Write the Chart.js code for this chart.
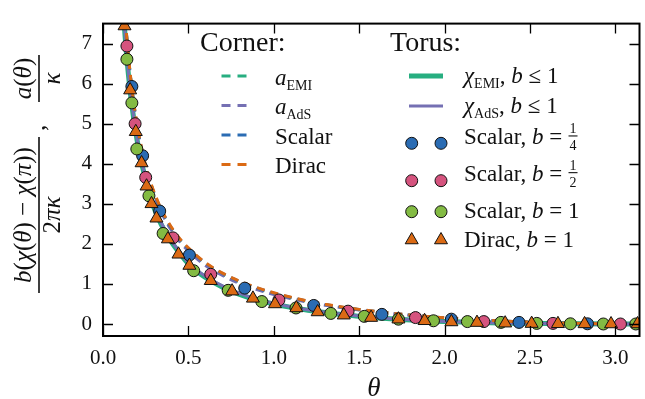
<!DOCTYPE html>
<html><head><meta charset="utf-8">
<script src="https://cdn.jsdelivr.net/npm/chart.js@4"></script>
<style>html,body{margin:0;padding:0;overflow:hidden;background:#fff}#wrap{width:648px;height:399px;position:relative}</style>
</head><body><div id="wrap"><canvas id="c"></canvas></div>
<script>
// ---- tick labels ----
const xTicks = [0, 0.5, 1.0, 1.5, 2.0, 2.5, 3.0];
const yTicks = [0, 1, 2, 3, 4, 5, 6, 7];

// ---- curves ----
const curveTheta = [0.12,0.13,0.14,0.16,0.18,0.20,0.22,0.25,0.28,0.32,0.36,0.40,0.45,0.50,0.60,0.70,0.80,0.90,1.00,1.10,1.20,1.30,1.40,1.50,1.60,1.80,2.00,2.20,2.40,2.60,2.80,3.00,3.1416];
const cornerEMI    = [8.29,7.65,7.10,6.20,5.50,4.94,4.48,3.92,3.49,3.03,2.67,2.38,2.09,1.86,1.50,1.24,1.04,0.885,0.756,0.649,0.559,0.481,0.414,0.355,0.304,0.219,0.152,0.102,0.061,0.032,0.012,0.002,0];
const cornerAdS    = [8.28,7.63,7.08,6.18,5.47,4.91,4.45,3.89,3.45,2.99,2.63,2.34,2.05,1.82,1.46,1.21,1.01,0.86,0.735,0.632,0.545,0.470,0.405,0.348,0.298,0.215,0.150,0.100,0.060,0.031,0.012,0.002,0];
const cornerScalar = [8.30,7.66,7.11,6.21,5.51,4.95,4.49,3.93,3.50,3.05,2.69,2.40,2.11,1.88,1.52,1.26,1.06,0.90,0.77,0.66,0.57,0.49,0.42,0.36,0.31,0.222,0.154,0.103,0.062,0.032,0.012,0.002,0];
const cornerDirac  = [8.31,7.67,7.12,6.23,5.53,4.97,4.51,3.95,3.52,3.07,2.71,2.42,2.13,1.90,1.53,1.27,1.07,0.91,0.78,0.67,0.575,0.495,0.425,0.365,0.312,0.225,0.156,0.105,0.063,0.033,0.013,0.002,0];
const torusEMI     = [7.75,7.15,6.62,5.78,5.12,4.58,4.14,3.60,3.12,2.68,2.33,2.05,1.76,1.50,1.16,0.92,0.74,0.60,0.50,0.415,0.345,0.285,0.235,0.190,0.155,0.100,0.062,0.037,0.020,0.010,0.004,0.001,0];
const torusAdS     = [7.78,7.18,6.66,5.82,5.16,4.62,4.18,3.64,3.16,2.72,2.37,2.08,1.79,1.53,1.19,0.95,0.765,0.62,0.515,0.43,0.355,0.295,0.243,0.197,0.160,0.103,0.064,0.038,0.021,0.010,0.004,0.001,0];

// ---- torus lattice points ----
const scalarQuarterTheta = [0.169,0.232,0.332,0.506,0.83,1.234,1.633,2.04,2.436,2.837];
const scalarQuarterY     = [5.93,4.20,2.82,1.72,0.895,0.463,0.24,0.12,0.04,0.005];
const scalarHalfTheta = [0.14,0.188,0.25,0.41,0.631,1.03,1.435,1.83,2.23,2.635,3.03];
const scalarHalfY     = [6.94,5.00,3.66,2.15,1.24,0.60,0.32,0.16,0.06,0.015,0.0];
const scalarOneTheta = [0.14,0.169,0.198,0.269,0.352,0.531,0.733,0.93,1.13,1.334,1.53,1.73,1.935,2.134,2.33,2.54,2.737,2.93,3.12];
const scalarOneY     = [6.61,5.52,4.37,3.20,2.26,1.33,0.84,0.56,0.40,0.264,0.19,0.12,0.08,0.06,0.04,0.015,0.005,0.0,0.0];
const diracOneTheta = [0.126,0.159,0.192,0.226,0.255,0.284,0.313,0.38,0.442,0.506,0.631,0.756,0.878,1.007,1.132,1.257,1.41,1.57,1.73,1.883,2.04,2.19,2.355,2.51,2.664,2.82,2.975,3.13];
const diracOneY     = [7.44,5.84,4.80,4.02,3.44,3.00,2.64,2.12,1.74,1.46,1.08,0.82,0.64,0.50,0.40,0.30,0.22,0.16,0.12,0.08,0.05,0.035,0.02,0.01,0.005,0.002,0.0,0.0];

const C = {teal:'#27ae80', purple:'#7570b3', blue:'#2b6cb3', orange:'#db6a14', pink:'#d5537e', green:'#83bb43'};
const SERIF = '"Liberation Serif","Times New Roman",serif';

const pts = (xs, ys) => xs.map((x, i) => ({x, y: ys[i]}));

function lineDs(label, ys, color, width, dash, order){
  return {type:'line', label, data: pts(curveTheta, ys), borderColor: color, borderWidth: width,
    borderDash: dash, pointRadius: 0, fill: false, cubicInterpolationMode: 'monotone', order};
}
function ptDs(label, xs, ys, color, style, r, order){
  return {type:'scatter', label, data: pts(xs, ys), backgroundColor: color, borderColor: '#111',
    borderWidth: 1, pointStyle: style, pointRadius: r, pointHoverRadius: r, showLine: false, order};
}

function runs(ctx, x, y, parts){
  let cx = x;
  for (const [t, f, dy] of parts){ ctx.font = f; ctx.fillText(t, cx, y + (dy || 0)); cx += ctx.measureText(t).width; }
  return cx;
}
function runsW(ctx, parts){
  let w = 0; for (const [t, f] of parts){ ctx.font = f; w += ctx.measureText(t).width; } return w;
}
function centered(ctx, parts, cx, y){ runs(ctx, cx - runsW(ctx, parts) / 2, y, parts); }

function marker(ctx, x, y, style, color, r){
  ctx.save(); ctx.fillStyle = color; ctx.strokeStyle = '#111'; ctx.lineWidth = 1;
  ctx.beginPath();
  if (style === 'circle'){ ctx.arc(x, y, r, 0, Math.PI * 2); }
  else { for (let k = 0; k < 3; k++){ const a = k * 2 * Math.PI / 3; const px = x + Math.sin(a) * r, py = y - Math.cos(a) * r; k ? ctx.lineTo(px, py) : ctx.moveTo(px, py);} ctx.closePath(); }
  ctx.fill(); ctx.stroke(); ctx.restore();
}

const decor = {
  id: 'decor',
  afterDraw(chart){
    const ctx = chart.ctx, a = chart.chartArea, xs = chart.scales.x, ys = chart.scales.y;
    ctx.save();
    ctx.strokeStyle = '#000'; ctx.lineWidth = 1.3;
    ctx.beginPath();
    for (const v of xTicks){ const p = Math.round(xs.getPixelForValue(v)) + 0.5;
      ctx.moveTo(p, a.bottom); ctx.lineTo(p, a.bottom - 10); ctx.moveTo(p, a.top); ctx.lineTo(p, a.top + 10); }
    for (const v of yTicks){ const p = Math.round(ys.getPixelForValue(v)) + 0.5;
      ctx.moveTo(a.left, p); ctx.lineTo(a.left + 10, p); ctx.moveTo(a.right, p); ctx.lineTo(a.right - 10, p); }
    ctx.stroke();
    ctx.lineWidth = 2; ctx.strokeRect(a.left, a.top, a.right - a.left, a.bottom - a.top);

    ctx.fillStyle = '#111'; ctx.textBaseline = 'alphabetic'; ctx.textAlign = 'left';
    // x title
    ctx.font = `italic 27px ${SERIF}`; ctx.textAlign = 'center'; ctx.fillText('θ', 374, 396); ctx.textAlign = 'left';

    // y title (rotated)
    ctx.save(); ctx.translate(39, 173); ctx.rotate(-Math.PI / 2);
    const F = 25, it = `italic ${F}px ${SERIF}`, rm = `${F}px ${SERIF}`;
    centered(ctx, [['b',it],['(',rm],['χ',it],['(',rm],['θ',it],[')',rm],[' − ',rm],['χ',it],['(',rm],['π',it],[')',rm],[')',rm]], -42, -8);
    centered(ctx, [['2',rm],['π',it],['κ',it]], -42, 21);
    ctx.fillRect(-120, -0.8, 156, 1.6);
    ctx.font = rm; ctx.fillText(',', 42, 6);
    centered(ctx, [['a',it],['(',rm],['θ',it],[')',rm]], 94.5, -8);
    centered(ctx, [['κ',it]], 94.5, 21);
    ctx.fillRect(71, -0.8, 47, 1.6);
    ctx.restore();

    // legend
    const T = `28px ${SERIF}`, R = `23px ${SERIF}`, I = `italic 23px ${SERIF}`, S = `14px ${SERIF}`, Fr = `14px ${SERIF}`;
    ctx.font = T; ctx.fillText('Corner:', 200, 51); ctx.fillText('Torus:', 390, 51);
    const cornerRows = [
      [76, C.teal, [['a', I], ['EMI', S, 5]]],
      [105.5, C.purple, [['a', I], ['AdS', S, 5]]],
      [135, C.blue, [['Scalar', R]]],
      [164.5, C.orange, [['Dirac', R]]]
    ];
    for (const [y, col, parts] of cornerRows){
      ctx.save(); ctx.strokeStyle = col; ctx.lineWidth = 3; ctx.setLineDash([9, 7]);
      ctx.beginPath(); ctx.moveTo(221.5, y); ctx.lineTo(246.5, y); ctx.stroke(); ctx.restore();
      runs(ctx, 275, y + 8.5, parts);
    }
    // torus rows
    const tx = 464;
    ctx.save(); ctx.strokeStyle = C.teal; ctx.lineWidth = 5; ctx.beginPath(); ctx.moveTo(409, 76); ctx.lineTo(443, 76); ctx.stroke();
    ctx.strokeStyle = C.purple; ctx.lineWidth = 3; ctx.beginPath(); ctx.moveTo(409, 106); ctx.lineTo(443, 106); ctx.stroke(); ctx.restore();
    runs(ctx, tx, 83, [['χ', I], ['EMI', S, 5], [', ', R], ['b', I], [' ≤ 1', R]]);
    runs(ctx, tx, 113, [['χ', I], ['AdS', S, 5], [', ', R], ['b', I], [' ≤ 1', R]]);
    const fracRow = (y, den) => {
      const end = runs(ctx, tx, y, [['Scalar, ', R], ['b', I], [' = ', R]]);
      ctx.font = Fr; ctx.textAlign = 'center';
      ctx.fillText('1', end + 5, y - 11); ctx.fillText(den, end + 5, y + 6);
      ctx.fillRect(end + 0.5, y - 8.6, 9, 1.1); ctx.textAlign = 'left';
    };
    marker(ctx, 411.7, 143.3, 'circle', C.blue, 6); marker(ctx, 441, 143.3, 'circle', C.blue, 6); fracRow(144, '4');
    marker(ctx, 411.7, 180.7, 'circle', C.pink, 6); marker(ctx, 441, 180.7, 'circle', C.pink, 6); fracRow(180.7, '2');
    marker(ctx, 411.7, 211.7, 'circle', C.green, 6); marker(ctx, 441, 211.7, 'circle', C.green, 6);
    runs(ctx, tx, 218.3, [['Scalar, ', R], ['b', I], [' = 1', R]]);
    marker(ctx, 411.7, 240, 'triangle', C.orange, 7.5); marker(ctx, 441, 240, 'triangle', C.orange, 7.5);
    runs(ctx, tx, 246.7, [['Dirac, ', R], ['b', I], [' = 1', R]]);
    ctx.restore();
  }
};

new Chart(document.getElementById('c'), {
  data: {
    datasets: [
      ptDs('Dirac, b=1', diracOneTheta, diracOneY, C.orange, 'triangle', 7.5, 0),
      ptDs('Scalar, b=1', scalarOneTheta, scalarOneY, C.green, 'circle', 6, 1),
      ptDs('Scalar, b=1/2', scalarHalfTheta, scalarHalfY, C.pink, 'circle', 6, 2),
      ptDs('Scalar, b=1/4', scalarQuarterTheta, scalarQuarterY, C.blue, 'circle', 6, 3),
      lineDs('Dirac', cornerDirac, C.orange, 3, [8, 6], 4),
      lineDs('Scalar', cornerScalar, C.blue, 3, [8, 6], 5),
      lineDs('a_AdS', cornerAdS, C.purple, 3, [8, 6], 6),
      lineDs('a_EMI', cornerEMI, C.teal, 3, [8, 6], 7),
      lineDs('chi_AdS', torusAdS, C.purple, 3, [], 8),
      lineDs('chi_EMI', torusEMI, C.teal, 5, [], 9)
    ]
  },
  options: {
    responsive: true, maintainAspectRatio: false, devicePixelRatio: 1, animation: false,
    layout: {padding: {top: 10, right: 2, bottom: 0, left: 0}},
    plugins: {legend: {display: false}, tooltip: {enabled: false}},
    scales: {
      x: {type: 'linear', min: 0, max: Math.PI,
        afterBuildTicks: s => { s.ticks = xTicks.map(v => ({value: v})); },
        afterFit: s => { s.height = 63; },
        grid: {display: false, drawTicks: false}, border: {display: false},
        ticks: {padding: 10, color: '#111', font: {family: SERIF, size: 21}, maxRotation: 0, callback: v => v.toFixed(1)}},
      y: {type: 'linear', min: -0.3, max: 7.5,
        afterBuildTicks: s => { s.ticks = yTicks.map(v => ({value: v})); },
        afterFit: s => { s.width = 103; },
        grid: {display: false, drawTicks: false}, border: {display: false},
        ticks: {padding: 11, color: '#111', font: {family: SERIF, size: 21}, callback: v => String(v)}}
    }
  },
  plugins: [decor]
});
</script></body></html>
